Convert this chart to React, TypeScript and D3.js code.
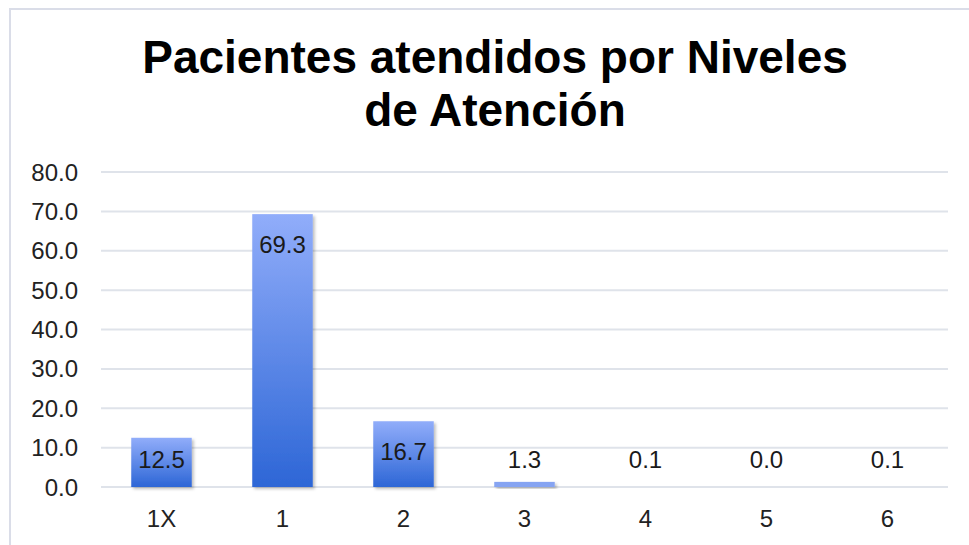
import React from "react";
import * as d3 from "d3";

const categories: string[] = ["1X", "1", "2", "3", "4", "5", "6"];
const values: number[] = [12.5, 69.3, 16.7, 1.3, 0.1, 0.0, 0.1];
const yTicks: number[] = [0, 10, 20, 30, 40, 50, 60, 70, 80];
const titleLines: string[] = ["Pacientes atendidos por Niveles", "de Atención"];

const W = 969;
const H = 545;
const FONT = "'Liberation Sans', Arial, sans-serif";

export default function App() {
  const x = d3
    .scaleBand<string>()
    .domain(categories)
    .range([101, 948])
    .paddingInner(0.5)
    .paddingOuter(0.25);
  const y = d3.scaleLinear().domain([0, 80]).range([487, 172]);
  const fmt = d3.format(".1f");

  return (
    <div style={{ position: "fixed", left: 0, top: 0, width: W, height: H, background: "#fff" }}>
      <svg width={W} height={H} style={{ display: "block" }}>
        <defs>
          <linearGradient id="barGrad" x1="0" y1="0" x2="0" y2="1">
            <stop offset="0%" stopColor="#91adfa" />
            <stop offset="100%" stopColor="#2d66d6" />
          </linearGradient>
          <filter id="shadow" x="-20%" y="-20%" width="140%" height="140%">
            <feDropShadow dx="2" dy="2" stdDeviation="1.5" floodColor="#000" floodOpacity="0.25" />
          </filter>
        </defs>
        <rect x={0} y={0} width={W} height={H} fill="#fff" />
        <path d={`M10,${H} V9 H${W}`} fill="none" stroke="#dadde8" strokeWidth={2} />
        {titleLines.map((t, i) => (
          <text
            key={i}
            x={495}
            y={73 + i * 53}
            textAnchor="middle"
            fontFamily={FONT}
            fontWeight="bold"
            fontSize={46}
            fill="#000"
          >
            {t}
          </text>
        ))}
        {yTicks.map((t) => (
          <g key={t}>
            <line x1={101} x2={948} y1={y(t)} y2={y(t)} stroke="#dfe3ea" strokeWidth={2} />
            <text
              x={78}
              y={y(t) + 8.5}
              textAnchor="end"
              fontFamily={FONT}
              fontSize={24}
              fill="#222"
            >
              {fmt(t)}
            </text>
          </g>
        ))}
        {categories.map((c, i) => {
          const v = values[i];
          const bx = x(c) as number;
          const bw = x.bandwidth();
          const top = y(v);
          const h = y(0) - top;
          const labelY = Math.min(top + 39, 468);
          return (
            <g key={c}>
              {h > 1 && (
                <rect
                  x={bx}
                  y={top}
                  width={bw}
                  height={h}
                  fill={h < 10 ? "#86a4f2" : "url(#barGrad)"}
                  filter="url(#shadow)"
                />
              )}
              <text
                x={bx + bw / 2}
                y={labelY}
                textAnchor="middle"
                fontFamily={FONT}
                fontSize={24}
                fill="#1a1a1a"
              >
                {fmt(v)}
              </text>
              <text
                x={bx + bw / 2}
                y={527}
                textAnchor="middle"
                fontFamily={FONT}
                fontSize={24}
                fill="#222"
              >
                {c}
              </text>
            </g>
          );
        })}
      </svg>
    </div>
  );
}
